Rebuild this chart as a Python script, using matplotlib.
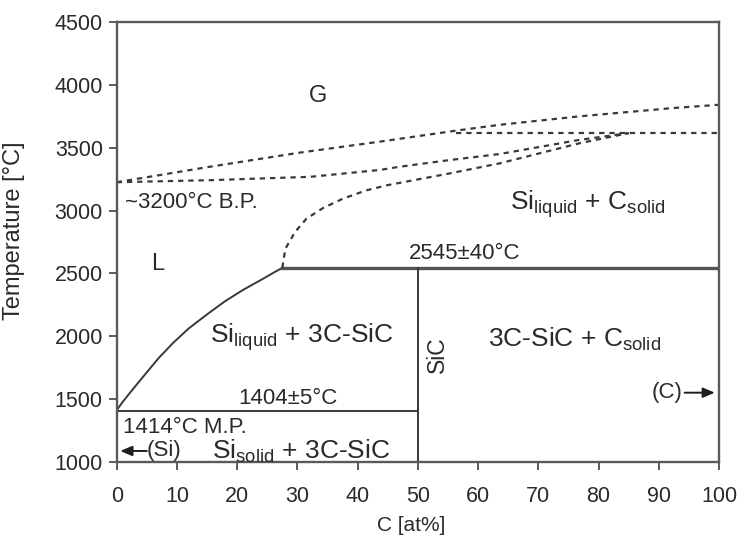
import matplotlib
matplotlib.use("Agg")
import matplotlib.pyplot as plt

plt.rcParams['font.family'] = ['Liberation Sans', 'DejaVu Sans']
plt.rcParams['mathtext.fontset'] = 'custom'
plt.rcParams['mathtext.rm'] = 'Liberation Sans'
plt.rcParams['mathtext.it'] = 'Liberation Sans:italic'
plt.rcParams['mathtext.bf'] = 'Liberation Sans:bold'

# ---- data ----
xticks = [0, 10, 20, 30, 40, 50, 60, 70, 80, 90, 100]
yticks = [1000, 1500, 2000, 2500, 3000, 3500, 4000, 4500]

# liquidus (solid curve)
liq_C = [0, 1, 2.5, 5, 7, 9.4, 12, 15, 18, 21, 24, 26, 27.5]
liq_T = [1414, 1480, 1570, 1715, 1830, 1950, 2065, 2175, 2280, 2370, 2450, 2505, 2545]

# upper dashed boundary
up_C = [0, 15.5, 30.4, 43.8, 56.4, 63.6, 76.8, 92.3, 100]
up_T = [3225, 3348, 3460, 3548, 3635, 3681, 3748, 3814, 3840]

# middle dashed boundary
mid_C = [0, 15.5, 32.2, 43.8, 47, 55.3, 63.6, 76.8, 85]
mid_T = [3225, 3241, 3268, 3323, 3348, 3401, 3449, 3561, 3615]

# lower dashed boundary (starting at peritectic)
low_C = [27.5, 28.0, 29.6, 31.5, 34.3, 37.6, 41.5, 44.8, 47, 55.3, 63.6, 76.8, 85]
low_T = [2545, 2696, 2829, 2935, 3021, 3095, 3161, 3200, 3220, 3295, 3375, 3534, 3615]

# horizontal dashed line
hd_C = [56.4, 100]
hd_T = [3615, 3615]

peritectic_T = 2545
peritectic_C = [27.5, 100]
eutectic_T = 1404
eutectic_C = [0, 50]
sic_C = 50
sic_T = [1000, 2545]

fig = plt.figure(figsize=(7.37, 5.41), dpi=100)
ax = fig.add_axes([116.7 / 737, 1 - 462.3 / 541, 602.3 / 737, 440.6 / 541])

dark = '#383838'
ax.plot(liq_C, liq_T, color=dark, lw=1.4, solid_joinstyle='round')
ax.plot(peritectic_C, [peritectic_T] * 2, color='#555555', lw=2.4)
ax.plot(eutectic_C, [eutectic_T] * 2, color=dark, lw=1.4)
ax.plot([sic_C] * 2, sic_T, color=dark, lw=1.4)

dash = dict(color='#3a3a3a', lw=1.6, dashes=(2.4, 2.2))
ax.plot(up_C, up_T, **dash)
ax.plot(mid_C, mid_T, **dash)
ax.plot(low_C, low_T, **dash)
ax.plot(hd_C, hd_T, **dash)

ax.set_xlim(0, 100)
ax.set_ylim(1000, 4500)
ax.set_xticks(xticks)
ax.set_yticks(yticks)
for s in ax.spines.values():
    s.set_linewidth(1.7)
    s.set_color('#5a5a5a')
ax.tick_params(axis='both', direction='out', length=6, width=1.4, color='#5a5a5a',
               labelsize=15.5, labelcolor='#2a2a2a')
ax.tick_params(axis='x', pad=11)
ax.tick_params(axis='y', pad=4)

ax.set_xlabel('C [at%]', fontsize=15, color='#2a2a2a')
ax.set_ylabel('Temperature [°C]', fontsize=17, color='#2a2a2a')
ax.xaxis.set_label_coords(0.489, -0.122)
ax.yaxis.set_label_coords(-0.152, 0.525)

tc = '#2a2a2a'
fs_phase = 19
fs_t = 16
ax.text(33.4, 3910, 'G', fontsize=17, color=tc, ha='center', va='center')
ax.text(6.8, 2575, 'L', fontsize=17, color=tc, ha='center', va='center')
ax.text(1.4, 3063, '~3200°C B.P.', fontsize=fs_t, color=tc, ha='left', va='center')
ax.text(65.3, 3050, r'Si$_{\mathrm{liquid}}$ + C$_{\mathrm{solid}}$', fontsize=fs_phase,
        color=tc, ha='left', va='center')
ax.text(57.8, 2655, '2545±40°C', fontsize=fs_t, color=tc, ha='center', va='center')
ax.text(15.5, 1995, r'Si$_{\mathrm{liquid}}$ + 3C-SiC', fontsize=fs_phase,
        color=tc, ha='left', va='center')
ax.text(53.3, 1857, 'SiC', fontsize=16.5, color=tc, ha='center', va='center', rotation=90)
ax.text(61.6, 1980, r'3C-SiC + C$_{\mathrm{solid}}$', fontsize=fs_phase,
        color=tc, ha='left', va='center')
ax.text(28.4, 1510, '1404±5°C', fontsize=fs_t, color=tc, ha='center', va='center')
ax.text(1.1, 1278, '1414°C M.P.', fontsize=fs_t, color=tc, ha='left', va='center')
ax.text(5.0, 1090, '(Si)', fontsize=fs_t, color=tc, ha='left', va='center')
ax.text(15.9, 1085, r'Si$_{\mathrm{solid}}$ + 3C-SiC', fontsize=fs_phase,
        color=tc, ha='left', va='center')
ax.text(94.0, 1553, '(C)', fontsize=fs_t, color=tc, ha='right', va='center')

arr = dict(arrowstyle='-|>,head_length=0.7,head_width=0.3', color='#1e1e1e', lw=1.4,
           shrinkA=0, shrinkB=0)
ax.annotate('', xy=(0.6, 1090), xytext=(5.0, 1090), arrowprops=arr)
ax.annotate('', xy=(99.3, 1553), xytext=(94.3, 1553), arrowprops=arr)

fig.savefig('out.png', dpi=100)
